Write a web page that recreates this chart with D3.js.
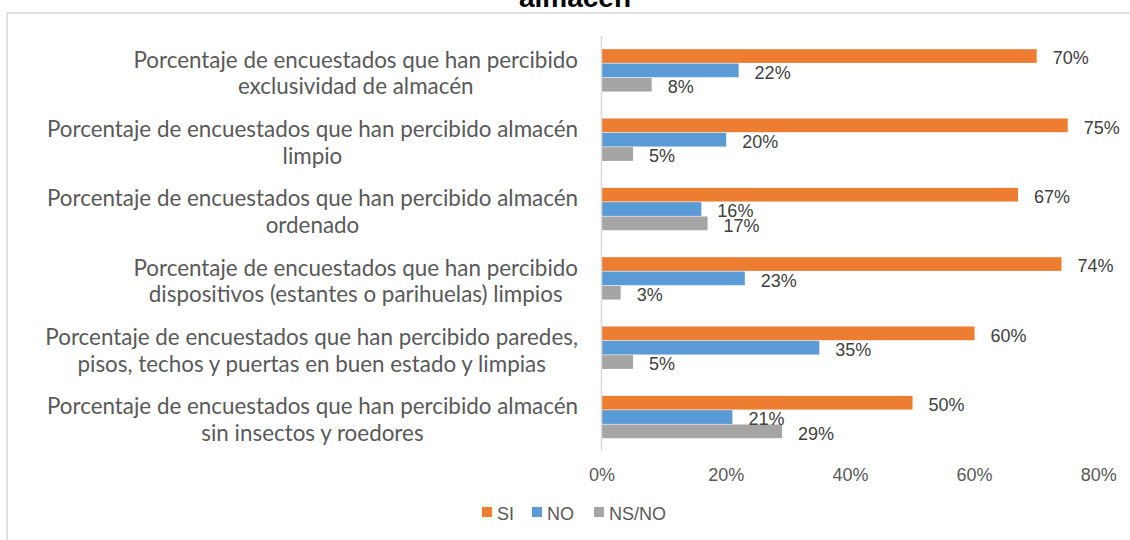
<!DOCTYPE html>
<html>
<head>
<meta charset="utf-8">
<script src="https://cdn.jsdelivr.net/npm/d3@7"></script>
<style>
  body { margin: 0; background: #fff; }
  svg { display: block; }
</style>
</head>
<body>
<svg id="chart" width="1130" height="540"></svg>
<script>
// data
const categories = [
  "Porcentaje de encuestados que han percibido\nexclusividad de almacén",
  "Porcentaje de encuestados que han percibido almacén\nlimpio",
  "Porcentaje de encuestados que han percibido almacén\nordenado",
  "Porcentaje de encuestados que han percibido\ndispositivos (estantes o parihuelas) limpios",
  "Porcentaje de encuestados que han percibido paredes,\npisos, techos y puertas en buen estado y limpias",
  "Porcentaje de encuestados que han percibido almacén\nsin insectos y roedores"
];
const seriesNames = ["SI", "NO", "NS/NO"];
const si   = [0.70, 0.75, 0.67, 0.74, 0.60, 0.50];
const no   = [0.22, 0.20, 0.16, 0.23, 0.35, 0.21];
const nsno = [0.08, 0.05, 0.17, 0.03, 0.05, 0.29];
const xTicks = [0, 0.2, 0.4, 0.6, 0.8];
const colors = ["#ED7D31", "#5B9BD5", "#A5A5A5"];

const svg = d3.select("#chart");

// chart frame (cut off on the right and bottom)
svg.append("rect")
  .attr("x", 7).attr("y", 13)
  .attr("width", 1200).attr("height", 600)
  .attr("fill", "none")
  .attr("stroke", "#d9d9d9")
  .attr("stroke-width", 1.5);

// title, only the last line is visible
svg.append("text")
  .attr("x", 575).attr("y", 7)
  .attr("text-anchor", "middle")
  .style("font-family", "Liberation Sans, Arial, sans-serif")
  .style("font-weight", "bold")
  .style("font-size", "28px")
  .attr("fill", "#000")
  .text("almacén");

const x = d3.scaleLinear().domain([0, 0.8]).range([602, 1098.8]);
const y = d3.scaleBand().domain(d3.range(categories.length)).range([36, 452])
  .paddingInner(0.38).paddingOuter(0.19);
const ySub = d3.scaleBand().domain(seriesNames).range([0, y.bandwidth()]);

const rows = categories.map((c, i) => ({ i: i, vals: [si[i], no[i], nsno[i]] }));

const groups = svg.selectAll("g.cat").data(rows).join("g")
  .attr("class", "cat")
  .attr("transform", d => `translate(0,${y(d.i)})`);

groups.selectAll("rect").data(d => d.vals.map((v, k) => ({ v: v, k: k })))
  .join("rect")
  .attr("x", x(0))
  .attr("y", d => ySub(seriesNames[d.k]))
  .attr("width", d => x(d.v) - x(0))
  .attr("height", ySub.bandwidth() - 0.6)
  .attr("fill", d => colors[d.k]);

groups.selectAll("text.lbl").data(d => d.vals.map((v, k) => ({ v: v, k: k })))
  .join("text")
  .attr("class", "lbl")
  .attr("x", d => x(d.v) + 16)
  .attr("y", d => ySub(seriesNames[d.k]) + ySub.bandwidth() / 2 + 8)
  .style("font-family", "Liberation Sans, Arial, sans-serif")
  .style("font-size", "18px")
  .attr("fill", "#404040")
  .text(d => d3.format(".0%")(d.v));

// vertical axis line
svg.append("line")
  .attr("x1", 601.5).attr("x2", 601.5)
  .attr("y1", 36).attr("y2", 451)
  .attr("stroke", "#d9d9d9")
  .attr("stroke-width", 1.5);

// category labels, centred block against the axis
const catG = svg.append("g");
categories.forEach((c, i) => {
  const lines = c.split("\n");
  const cy = y(i) + y.bandwidth() / 2;
  const t = catG.append("text")
    .attr("text-anchor", "middle")
    .style("font-family", "Lato, Carlito, Calibri, sans-serif")
    .style("font-size", "22.4px")
    .attr("fill", "#595959");
  lines.forEach((ln, j) => {
    t.append("tspan").attr("y", cy - 3 + j * 26.5).text(ln);
  });
  let w = 0;
  t.selectAll("tspan").each(function () { w = Math.max(w, this.getComputedTextLength()); });
  t.selectAll("tspan").attr("x", 578 - w / 2);
});

// x tick labels
svg.append("g").selectAll("text").data(xTicks).join("text")
  .attr("x", d => x(d))
  .attr("y", 481)
  .attr("text-anchor", "middle")
  .style("font-family", "Liberation Sans, Arial, sans-serif")
  .style("font-size", "18px")
  .attr("fill", "#595959")
  .text(d => d3.format(".0%")(d));

// legend
const legX = [482, 532, 594];
const leg = svg.append("g").selectAll("g").data(seriesNames).join("g")
  .attr("transform", (d, i) => `translate(${legX[i]},507)`);
leg.append("rect").attr("width", 10).attr("height", 10)
  .attr("fill", (d, i) => colors[i]);
leg.append("text").attr("x", 15).attr("y", 13)
  .style("font-family", "Liberation Sans, Arial, sans-serif")
  .style("font-size", "18px")
  .attr("fill", "#595959")
  .text(d => d);
</script>
</body>
</html>
